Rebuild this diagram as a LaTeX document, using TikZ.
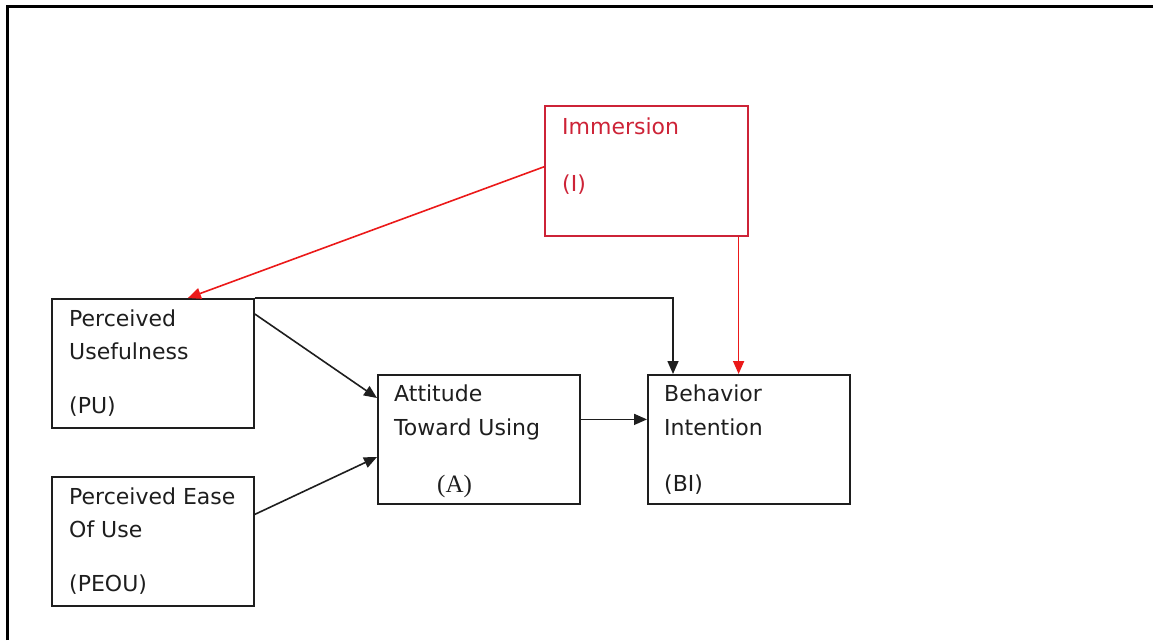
\documentclass[tikz,border=0pt]{standalone}
\usepackage{fontspec}
\setmainfont{DejaVu Sans}
\newfontfamily\serifA{Liberation Serif}
\usetikzlibrary{arrows.meta,calc}
\definecolor{immred}{RGB}{205,35,55}
\definecolor{arrred}{RGB}{235,25,25}
\definecolor{boxgray}{RGB}{30,30,30}
\tikzset{
  box/.style={draw=boxgray, line width=1.8pt, anchor=north west, inner sep=0pt, minimum width=202pt, minimum height=129pt},
  redbox/.style={box, draw=immred, line width=1.6pt, minimum width=203pt, minimum height=130pt},
  lbl/.style={anchor=base west, inner sep=0pt, font=\fontsize{22}{24}\selectfont, text=boxgray},
  rlbl/.style={lbl, text=immred},
  blk/.style={draw=boxgray, line width=1.6pt, -{Triangle[length=13pt,width=11pt]}},
  red/.style={draw=arrred, line width=1.6pt, -{Triangle[length=13pt,width=11pt]}}
}
\begin{document}
\begin{tikzpicture}[x=1pt,y=-1pt]
\useasboundingbox (0,0) rectangle (1153,640);
% frame (left and top)
\draw[line width=3pt] (7,640) -- (7,6.5) -- (1153,6.5);
% boxes
\node[redbox] (I) at (544,105) {};
\node[box] (PU) at (51,298) {};
\node[box] (PEOU) at (51,476) {};
\node[box] (A) at (377,374) {};
\node[box] (BI) at (647,374) {};
% texts
\node[rlbl] (tI1) at (562,134) {Immersion};
\node[rlbl] (tI2) at (562,191) {(I)};
\node[lbl] (tPU1) at (69,326) {Perceived};
\node[lbl] (tPU2) at (69,359) {Usefulness};
\node[lbl] (tPU3) at (69,413) {(PU)};
\node[lbl] (tPE1) at (69,504) {Perceived Ease};
\node[lbl] (tPE2) at (69,537) {Of Use};
\node[lbl] (tPE3) at (69,591) {(PEOU)};
\node[lbl] (tA1) at (394,401) {Attitude};
\node[lbl] (tA2) at (394,435) {Toward Using};
\node[lbl, font=\serifA\fontsize{25}{27}\selectfont] (tA3) at (437,492) {(A)};
\node[lbl] (tB1) at (664,401) {Behavior};
\node[lbl] (tB2) at (664,435) {Intention};
\node[lbl] (tB3) at (664,491) {(BI)};
% connectors
\draw[red] ([yshift=4pt]I.west) -- ([xshift=35pt]PU.north);
\draw[red] ([xshift=-10pt]I.south east) -- ([xshift=-10pt]I.south east |- BI.north);
\draw[blk] (PU.north east) -| ([xshift=26pt]BI.north west);
\draw[blk] ([yshift=-16pt]PU.north east) -- ([yshift=-24pt]A.north west);
\draw[blk] ([yshift=27pt]PEOU.east) -- ([yshift=-83pt]A.north west);
\draw[blk] ([yshift=20pt]A.east) -- ([yshift=20pt]A.east -| BI.west);
\end{tikzpicture}
\end{document}
